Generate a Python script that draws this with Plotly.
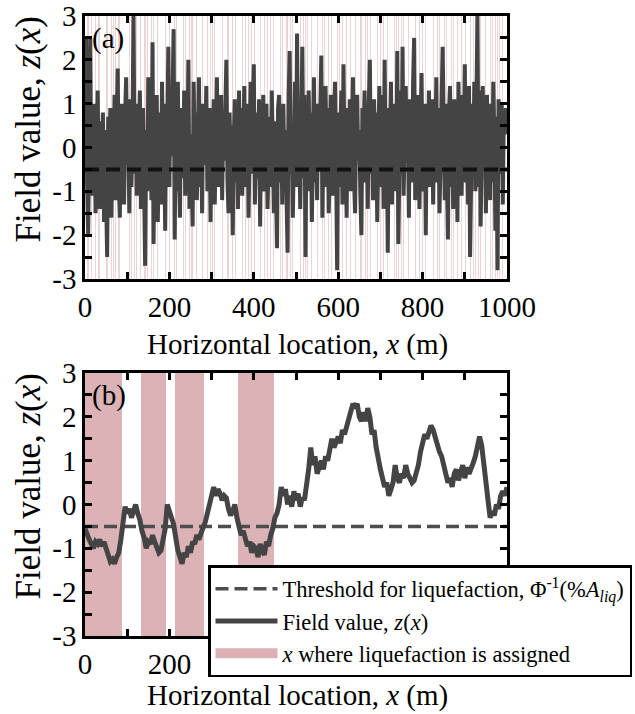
import plotly.graph_objects as go

# ---------------- data ----------------
THRESHOLD = -0.5
STEP_A = 2.5
STEP_B = 5

# (a) uncorrelated field, x = 0, 2.5, ..., 1000 m
z_a = [
    1.4, 2.5, -0.8, -2.0, 0.3, 2.5, -1.1, 0.9, -0.4, 1.0,
    -1.5, 0.2, 1.3, -0.7, -1.4, 0.6, -0.2, 0.8, -1.7, 0.4,
    -0.9, -2.5, 0.7, -0.3, 0.9, -1.6, 0.1, -0.6, 1.2, -1.2,
    0.5, 1.8, -0.8, -1.6, 0.3, 1.0, -0.5, -1.3, 0.7, 1.6,
    -0.4, 0.2, -1.5, 1.1, -0.9, 0.4, 3.0, -0.6, 1.0, -1.1,
    0.6, -0.2, 1.3, -1.4, 0.0, 0.9, -0.8, -2.7, 0.4, -1.0,
    1.6, -0.5, 0.3, -1.2, 2.4, -2.2, 0.7, -0.3, 1.2, -1.7,
    -0.1, 0.8, -1.3, 1.5, -0.6, 0.2, -1.9, 1.0, 0.4, 2.3,
    -0.9, 1.4, -0.2, 2.0, 2.7, -2.1, 0.5, -1.0, 1.5, -0.4,
    -1.6, 0.9, 0.1, -0.7, 1.3, -1.1, 0.6, -0.3, 2.0, -1.4,
    0.3, -0.8, -1.8, 1.5, -0.2, 0.8, -1.2, 0.0, 1.6, -0.9,
    0.5, -1.5, 1.0, -0.4, 0.2, 1.4, -1.0, -0.2, 0.9, -1.7,
    0.7, -0.6, 1.1, -1.3, 0.4, 1.6, -0.1, -0.9, 0.3, 1.2,
    -1.2, 0.6, -0.3, 1.5, 2.0, -0.7, -1.5, 0.8, -0.2, 0.5,
    -2.0, 0.1, 1.1, -0.8, 0.4, -1.4, 1.3, -0.5, 0.9, -1.1,
    0.2, 1.4, -0.9, -0.1, 1.0, -1.6, 0.5, 1.5, -0.6, 0.3,
    1.9, -1.3, 0.0, 0.8, -0.7, 1.1, -1.8, 0.6, -0.3, 1.2,
    -1.0, 0.4, 1.0, -1.4, -0.2, 0.7, -0.9, 1.3, 0.1, -1.5,
    0.6, -0.4, -2.3, 0.9, 1.2, -0.8, 0.2, -1.3, 1.0, -0.5,
    0.4, -1.1, -2.4, 1.1, 2.2, -0.6, 0.3, -1.6, 0.8, 1.5,
    -0.9, 2.6, -0.3, 0.6, -1.4, 0.9, 2.3, -0.7, 1.2, -2.5,
    0.5, -1.0, 1.3, -0.2, 0.8, -1.7, 0.3, 1.6, -0.8, 0.1,
    -1.2, 1.0, -0.5, 0.7, 2.1, -1.6, 0.2, -0.9, 1.4, -0.3,
    0.9, -1.5, 0.4, 1.2, -0.6, -1.1, 0.6, 1.5, -0.4, -2.8,
    0.8, -0.9, 0.3, 1.3, -1.3, 1.9, -0.2, 0.5, -1.6, 0.9,
    -0.4, 1.1, -1.0, 0.2, 1.6, -0.7, -1.5, 0.7, 1.2, -0.3,
    0.4, -1.1, -2.0, 0.9, 0.1, 1.3, -0.8, 0.6, -1.4, 1.0,
    2.0, -0.6, 0.3, -1.2, 1.1, -0.2, 0.8, -1.7, 0.5, 1.4,
    -0.9, 0.2, 1.2, -1.4, 2.0, -0.5, 0.6, -2.4, 0.9, -0.1,
    1.5, -1.3, 0.4, -0.7, 1.0, -1.0, 2.2, -2.2, 0.7, 1.3,
    -0.6, 2.3, -1.1, 0.5, 1.4, -0.3, 0.8, -1.6, 1.1, 0.2,
    -0.8, 1.5, 2.5, -1.2, 0.3, -0.5, 1.2, -1.4, 0.6, 1.7,
    -1.0, 0.4, 1.0, -2.0, 0.7, -0.4, 1.3, -0.9, 0.2, 1.1,
    -1.3, 0.6, -0.2, 1.6, -0.8, 0.9, -1.5, 0.3, 1.2, 2.3,
    0.5, -1.2, 1.0, -0.6, -2.1, 0.8, 1.4, -0.9, 0.2, -1.4,
    1.1, -0.3, 0.7, -1.7, 1.5, -0.5, 0.4, -1.1, 1.2, 0.0,
    1.9, -0.8, 0.6, -1.3, 1.4, -2.5, 0.3, 1.0, -0.7, 1.5,
    -1.0, 0.8, 3.0, -0.9, 1.3, -1.8, 0.5, 1.4, -0.4, 0.9,
    -1.5, 1.2, -0.3, 0.6, -1.2, 1.0, -0.8, 1.5, 0.2, -1.9,
    0.7, -2.8, 1.1, -0.6, 0.4, 1.0, -1.3, 0.8, 0.3, 0.9,
    0.6,
]
x_a = [i * STEP_A for i in range(len(z_a))]

# (b) correlated field, x = 0, 5, ..., 1000 m
z_b = [
    -0.55, -0.70, -0.80, -0.90, -1.00, -0.85, -0.90, -0.80, -0.95, -0.85,
    -1.00, -1.15, -1.30, -1.25, -1.35, -1.20, -1.10, -0.80, -0.45, -0.05,
    -0.20, -0.10, -0.30, -0.15, 0.00, -0.20, -0.35, -0.60, -0.75, -1.00,
    -0.85, -0.90, -0.70, -0.85, -1.00, -1.10, -1.05, -0.80, -0.55, 0.00,
    -0.20, -0.30, -0.45, -0.80, -1.05, -1.20, -1.35, -1.10, -1.20, -0.95,
    -1.10, -0.85, -0.90, -0.70, -0.80, -0.65, -0.55, -0.40, -0.20, 0.05,
    0.30, 0.40, 0.20, 0.35, 0.25, 0.10, 0.20, 0.15, -0.10, -0.25,
    -0.15, 0.00, -0.30, -0.55, -0.70, -0.60, -0.80, -0.95, -0.85, -1.10,
    -0.95, -1.00, -1.20, -0.90, -1.05, -1.15, -0.85, -0.95, -0.70, -0.55,
    -0.30, -0.20, 0.00, 0.40, 0.20, 0.35, 0.00, 0.20, -0.05, 0.30,
    0.10, 0.25, -0.05, 0.15, 0.10, 0.40, 0.80, 1.30, 0.90, 1.10,
    0.70, 0.85, 1.00, 0.80, 1.10, 1.00, 1.30, 1.50, 1.30, 1.45,
    1.55, 1.40, 1.70, 1.60, 1.80, 2.00, 2.10, 2.30, 2.20, 2.30,
    2.00, 1.90, 2.10, 1.90, 2.20, 2.00, 1.60, 1.70, 1.30, 1.00,
    0.80, 0.60, 0.40, 0.50, 0.20, 0.35, 0.50, 0.90, 0.60, 0.50,
    0.70, 0.60, 0.90, 0.70, 0.60, 0.50, 0.55, 0.70, 0.90, 1.20,
    1.40, 1.60, 1.50, 1.70, 1.80, 1.70, 1.50, 1.30, 1.20, 1.10,
    0.90, 0.70, 0.50, 0.60, 0.40, 0.70, 0.80, 0.55, 0.70, 0.90,
    0.60, 0.85, 0.70, 0.80, 0.95, 1.10, 1.40, 1.55, 1.35, 1.00,
    0.50, 0.10, -0.30, -0.15, -0.25, 0.00, -0.10, 0.20, 0.30, 0.20,
    0.40,
]
x_b = [i * STEP_B for i in range(len(z_b))]

x_tickvals = [0, 200, 400, 600, 800, 1000]
x_ticktext = ["0", "200", "400", "600", "800", "1000"]
y_tickvals = [-3, -2, -1, 0, 1, 2, 3]
y_ticktext = ["-3", "-2", "-1", "0", "1", "2", "3"]

legend_labels = [
    "Threshold for liquefaction, \u03a6<sup>-1</sup>(%<i>A</i><sub><i>liq</i></sub>)",
    "Field value, <i>z</i>(<i>x</i>)",
    "<i>x</i> where liquefaction is assigned",
]

# ---------------- style ----------------
FONT = "Liberation Serif"
LINE_COL = "#444444"
BAND_COL = "rgba(150,30,40,0.34)"
BAND_COL_A = "rgba(170,60,70,0.22)"
BAND_LEG = "rgb(218,176,180)"

fig = go.Figure()

def liq_x(xs, zs):
    return [x for x, z in zip(xs, zs) if z < THRESHOLD]

# ---- panel (a)
xa_liq = liq_x(x_a, z_a)
fig.add_trace(go.Bar(x=xa_liq, y=[6] * len(xa_liq), base=-3, width=STEP_A * 0.8,
                     marker=dict(color=BAND_COL_A, line=dict(width=0)),
                     xaxis="x", yaxis="y", showlegend=False))
fig.add_trace(go.Scatter(x=x_a, y=z_a, mode="lines", line=dict(color=LINE_COL, width=4),
                         xaxis="x", yaxis="y", showlegend=False))
fig.add_trace(go.Scatter(x=[0, 1000], y=[THRESHOLD, THRESHOLD], mode="lines",
                         line=dict(color="#111111", width=4, dash="14px,7px"),
                         xaxis="x", yaxis="y", showlegend=False))

# ---- panel (b)
fig.add_trace(go.Scatter(x=[0, 1000], y=[THRESHOLD, THRESHOLD], mode="lines",
                         line=dict(color="#4d4d4d", width=3.5, dash="13px,6px"),
                         xaxis="x2", yaxis="y2", name=legend_labels[0]))
fig.add_trace(go.Scatter(x=x_b, y=z_b, mode="lines", line=dict(color=LINE_COL, width=5),
                         xaxis="x2", yaxis="y2", name=legend_labels[1]))
xb_liq = liq_x(x_b, z_b)
fig.add_trace(go.Bar(x=xb_liq, y=[6] * len(xb_liq), base=-3, width=STEP_B,
                     marker=dict(color=BAND_COL, line=dict(width=0)),
                     xaxis="x2", yaxis="y2", showlegend=False))
fig.add_trace(go.Scatter(x=[None], y=[None], mode="lines",
                         line=dict(color=BAND_LEG, width=10),
                         xaxis="x2", yaxis="y2", name=legend_labels[2]))

W, H = 635, 714
def dom_x(a, b):
    return [a / W, b / W]
def dom_y(top, bot):
    return [1 - bot / H, 1 - top / H]

common_x = dict(range=[0, 1000], tickmode="array", tickvals=x_tickvals, ticktext=x_ticktext,
                showline=True, linecolor="black", linewidth=2.5, mirror="ticks",
                ticks="inside", ticklen=7, tickwidth=2.5, tickcolor="black",
                minor=dict(tickmode="linear", tick0=0, dtick=100, ticks="inside", ticklen=7,
                           tickwidth=2.5, tickcolor="black"),
                showgrid=False, zeroline=False, automargin=False,
                tickfont=dict(family=FONT, size=29, color="black"))
common_y = dict(range=[-3, 3], tickmode="array", tickvals=y_tickvals, ticktext=y_ticktext,
                showline=True, linecolor="black", linewidth=2.5, mirror="ticks",
                ticks="inside", ticklen=7, tickwidth=2.5, tickcolor="black",
                minor=dict(tickmode="linear", tick0=0, dtick=0.5, ticks="inside", ticklen=7,
                           tickwidth=2.5, tickcolor="black"),
                showgrid=False, zeroline=False, automargin=False,
                tickfont=dict(family=FONT, size=29, color="black"))

fig.update_layout(
    width=W, height=H,
    margin=dict(l=0, r=0, t=0, b=0),
    paper_bgcolor="white", plot_bgcolor="white",
    barmode="overlay", bargap=0,
    font=dict(family=FONT, color="black"),
    xaxis=dict(domain=dom_x(85, 507), anchor="y", **common_x),
    yaxis=dict(domain=dom_y(16, 279), anchor="x", **common_y),
    xaxis2=dict(domain=dom_x(85, 507), anchor="y2", **common_x),
    yaxis2=dict(domain=dom_y(373, 636), anchor="x2", **common_y),
    legend=dict(x=208 / W, y=1 - 565 / H, xanchor="left", yanchor="top",
                bgcolor="white", bordercolor="black", borderwidth=2.5,
                font=dict(family=FONT, size=22.5, color="black"),
                tracegroupgap=0, itemwidth=62),
    showlegend=True,
)

annots = [
    dict(text="(a)", xref="x domain", yref="y domain", x=0.012, y=0.985),
    dict(text="(b)", xref="x2 domain", yref="y2 domain", x=0.012, y=0.985),
]
for a in annots:
    fig.add_annotation(xanchor="left", yanchor="top", showarrow=False,
                       font=dict(family=FONT, size=29, color="black"), **a)

for ytop, ybot, xt_y in [(16, 279, 344), (373, 636, 695)]:
    fig.add_annotation(text="Field value, <i>z</i>(<i>x</i>)", xref="paper", yref="paper",
                       x=28 / W, y=1 - ((ytop + ybot) / 2 - 18) / H, textangle=-90,
                       showarrow=False, xanchor="center", yanchor="middle",
                       font=dict(family=FONT, size=35, color="black"))
    fig.add_annotation(text="Horizontal location, <i>x</i> (m)", xref="paper", yref="paper",
                       x=297 / W, y=1 - xt_y / H, showarrow=False,
                       xanchor="center", yanchor="middle",
                       font=dict(family=FONT, size=29, color="black"))

fig.write_html("out.html")
